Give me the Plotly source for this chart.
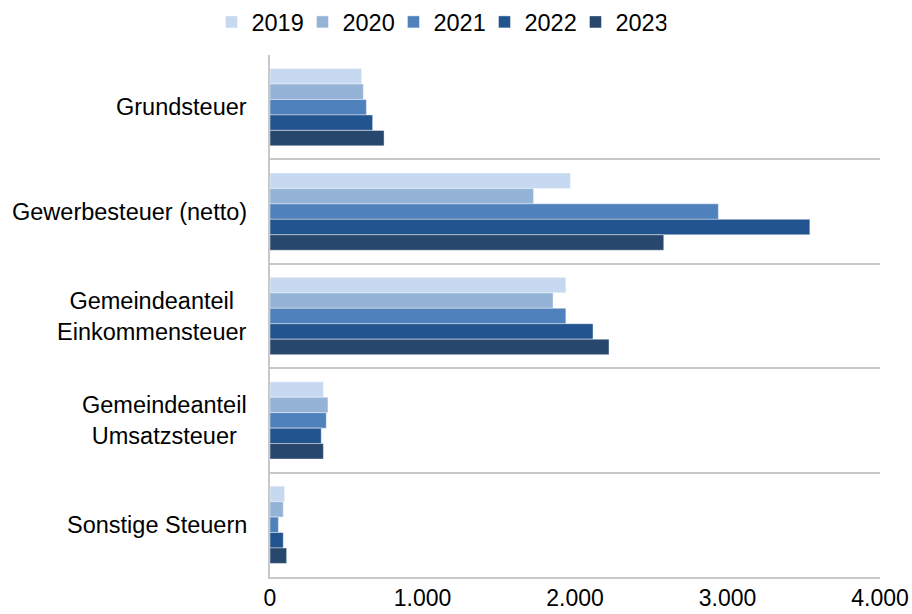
import plotly.graph_objects as go

# Steuereinnahmen nach Steuerart (Tsd. Euro), 2019–2023
categories = [
    "Grundsteuer",
    "Gewerbesteuer (netto)",
    "Gemeindeanteil Einkommensteuer",
    "Gemeindeanteil Umsatzsteuer",
    "Sonstige Steuern",
]
category_labels = [
    "Grundsteuer",
    "Gewerbesteuer (netto)",
    "Gemeindeanteil<br>Einkommensteuer",
    "Gemeindeanteil<br>Umsatzsteuer",
    "Sonstige Steuern",
]
years = ["2019", "2020", "2021", "2022", "2023"]
values_2019 = [601, 1970, 1940, 350, 96]
values_2020 = [612, 1728, 1856, 380, 87]
values_2021 = [632, 2940, 1940, 369, 55]
values_2022 = [673, 3540, 2118, 336, 87]
values_2023 = [748, 2582, 2223, 350, 109]
series = [values_2019, values_2020, values_2021, values_2022, values_2023]
colors = ["#C6D9F0", "#95B3D7", "#4F81BD", "#22558F", "#28476C"]
x_ticks = [0, 1000, 2000, 3000, 4000]

FONT = "Liberation Sans, Arial, sans-serif"
FS = 23.5
GRID = "#C8C8C8"

fig = go.Figure()
for year, vals, col in zip(years, series, colors):
    fig.add_trace(go.Bar(
        name=year,
        y=categories,
        x=vals,
        orientation="h",
        marker=dict(color=col, line=dict(color="rgba(255,255,255,0.6)", width=0.7)),
    ))

# Category labels, centred over multiple lines
for cat, lab in zip(categories, category_labels):
    fig.add_annotation(
        xref="paper", yref="y", x=0, y=cat,
        text=lab, showarrow=False,
        xanchor="right", yanchor="middle", align="center",
        xshift=-21,
        font=dict(family=FONT, size=FS, color="#000000"),
    )

fig.update_layout(
    width=912, height=614,
    margin=dict(l=270, r=32, t=55, b=37, autoexpand=False),
    paper_bgcolor="white", plot_bgcolor="white",
    barmode="group", bargap=0.26, bargroupgap=0,
    separators=",.",
    font=dict(family=FONT, size=FS, color="#000000"),
    showlegend=True,
    legend=dict(
        orientation="h", traceorder="normal",
        x=0.277, xanchor="center", y=1.063, yanchor="middle",
        font=dict(family=FONT, size=FS, color="#000000"),
        entrywidth=46, entrywidthmode="pixels",
        bgcolor="rgba(0,0,0,0)",
    ),
    xaxis=dict(
        range=[0, 4000], tickvals=x_ticks, tickformat=",d",
        showgrid=False, zeroline=False,
        showline=True, linecolor=GRID, linewidth=1.5,
        ticks="", ticklabelstandoff=0,
        tickfont=dict(family=FONT, size=23, color="#000000"),
    ),
    yaxis=dict(
        categoryorder="array", categoryarray=categories,
        autorange="reversed",
        showticklabels=False, ticks="",
        tickson="boundaries",
        showgrid=True, gridcolor=GRID, gridwidth=1.5,
        showline=True, linecolor=GRID, linewidth=1.5,
        zeroline=False,
    ),
)

fig.write_html("out.html")
